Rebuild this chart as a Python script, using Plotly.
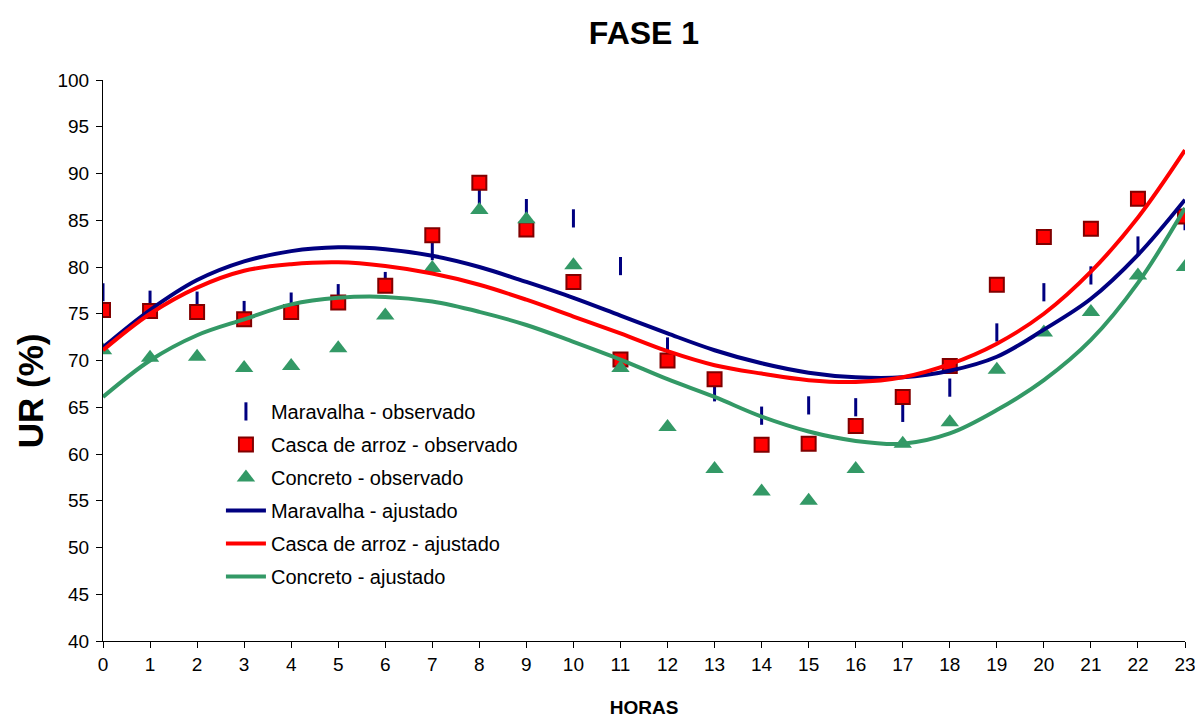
import plotly.graph_objects as go

horas = list(range(24))

maravalha_obs = [77.3, 76.5, 76.4, 75.4, 76.3, 77.2, 78.5, 81.7, 87.5, 86.3, 85.2, 80.1,
                 71.5, 66.6, 64.1, 65.2, 65.0, 64.4, 67.1, 73.0, 77.3, 79.1, 82.3, 84.9]
casca_obs = [75.4, 75.3, 75.2, 74.4, 75.2, 76.2, 78.0, 83.4, 89.0, 84.0, 78.4, 70.1,
             70.0, 68.0, 61.0, 61.1, 63.0, 66.1, 69.4, 78.1, 83.2, 84.1, 87.3, 85.4]
concreto_obs = [71.1, 70.3, 70.4, 69.2, 69.4, 71.3, 74.8, 79.9, 86.1, 85.1, 80.2, 69.2,
                62.9, 58.4, 56.0, 55.0, 58.4, 61.1, 63.4, 69.0, 73.0, 75.2, 79.1, 80.0]

maravalha_aj = [71.4, 75.4, 78.6, 80.6, 81.7, 82.1, 81.9, 81.2, 80.0, 78.4, 76.7, 74.8,
                72.9, 71.1, 69.7, 68.7, 68.2, 68.2, 68.9, 70.4, 73.3, 76.6, 81.3, 87.2]
casca_aj = [71.1, 75.0, 77.8, 79.6, 80.3, 80.5, 80.1, 79.3, 78.1, 76.5, 74.7, 72.9,
            71.0, 69.5, 68.6, 67.9, 67.7, 68.2, 69.6, 71.8, 75.0, 79.5, 85.3, 92.5]
concreto_aj = [66.1, 70.0, 72.7, 74.4, 76.0, 76.7, 76.8, 76.3, 75.2, 73.8, 72.0, 70.1,
               68.0, 66.1, 64.0, 62.4, 61.4, 61.1, 62.2, 64.7, 67.9, 72.2, 78.3, 86.3]

y_ticks = list(range(40, 101, 5))

NAVY = "#000080"
RED = "#FF0000"
DARKRED = "#800000"
GREEN = "#339966"

fig = go.Figure()

fig.add_trace(go.Scatter(
    x=horas, y=maravalha_obs, mode="markers", name="Maravalha - observado",
    legendgroup="a",
    marker=dict(symbol="line-ns", size=13, line=dict(color=NAVY, width=3), color=NAVY)))
fig.add_trace(go.Scatter(
    x=horas, y=casca_obs, mode="markers", name="Casca de arroz - observado",
    legendgroup="b",
    marker=dict(symbol="square", size=14, color=RED, line=dict(color=DARKRED, width=2))))
fig.add_trace(go.Scatter(
    x=horas, y=concreto_obs, mode="markers", name="Concreto - observado",
    legendgroup="c",
    marker=dict(symbol="triangle-up", size=16, color=GREEN, line=dict(width=0))))
fig.add_trace(go.Scatter(
    x=horas, y=maravalha_aj, mode="lines", name="Maravalha - ajustado",
    legendgroup="d", line=dict(color=NAVY, width=4, shape="spline")))
fig.add_trace(go.Scatter(
    x=horas, y=casca_aj, mode="lines", name="Casca de arroz - ajustado",
    legendgroup="e", line=dict(color=RED, width=4, shape="spline")))
fig.add_trace(go.Scatter(
    x=horas, y=concreto_aj, mode="lines", name="Concreto - ajustado",
    legendgroup="f", line=dict(color=GREEN, width=4, shape="spline")))

# page body has an 8px margin; figure sized to fit inside the window
fig.update_layout(
    width=1195, height=710,
    paper_bgcolor="white", plot_bgcolor="white",
    margin=dict(l=95, r=18, t=72, b=77),
    font=dict(family="Liberation Sans, Arial, sans-serif", color="black", size=19),
    title=dict(text="<b>FASE 1</b>", xref="paper", x=0.5, xanchor="center",
               y=0.965, yanchor="middle", font=dict(size=32)),
    showlegend=True,
    legend=dict(x=0.109, y=0.444, xanchor="left", yanchor="top",
                bgcolor="rgba(0,0,0,0)", font=dict(size=20),
                traceorder="grouped", tracegroupgap=4, itemwidth=40),
    annotations=[dict(text="<b>UR (%)</b>", textangle=-90, xref="paper", yref="paper",
                      x=-0.0675, y=0.447, xanchor="center", yanchor="middle",
                      showarrow=False, font=dict(size=35))],
)

fig.update_xaxes(
    range=[0, 23], tickmode="array", tickvals=horas, ticktext=[str(h) for h in horas],
    showline=True, linecolor="black", linewidth=1, ticks="outside", ticklen=6,
    tickcolor="black", showgrid=False, zeroline=False, automargin=False,
    tickfont=dict(size=19),
    title=dict(text="<b>HORAS</b>", font=dict(size=19), standoff=30),
)
fig.update_yaxes(
    range=[40, 100], tickmode="array", tickvals=y_ticks, ticktext=[str(v) for v in y_ticks],
    showline=True, linecolor="black", linewidth=1, ticks="outside", ticklen=6,
    tickcolor="black", showgrid=False, zeroline=False, automargin=False,
    tickfont=dict(size=19), ticklabelstandoff=3,
)

fig.write_html("out.html")
